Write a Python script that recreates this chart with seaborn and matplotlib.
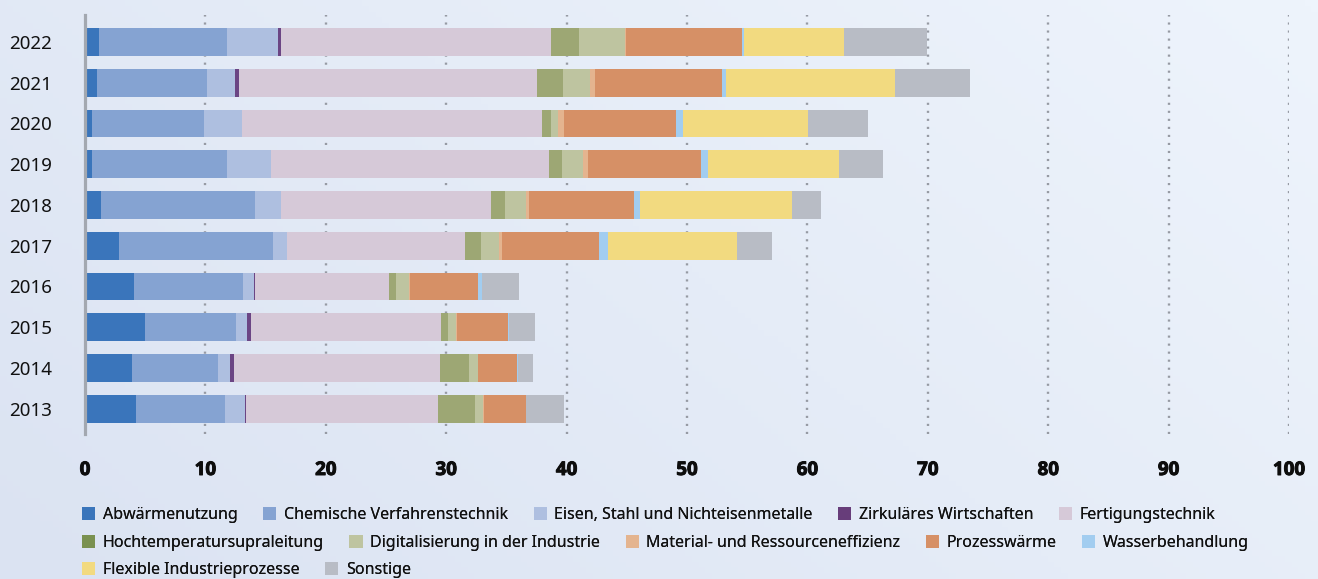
import numpy as np
import pandas as pd
import matplotlib
matplotlib.use("Agg")
import matplotlib.pyplot as plt
import matplotlib.transforms as mtransforms
import matplotlib.patheffects as pe
from matplotlib.patches import Patch
from matplotlib.colors import LinearSegmentedColormap
from matplotlib import font_manager
import seaborn as sns

years = ["2022", "2021", "2020", "2019", "2018", "2017", "2016", "2015", "2014", "2013"]
categories = [
    "Abwärmenutzung", "Chemische Verfahrenstechnik", "Eisen, Stahl und Nichteisenmetalle",
    "Zirkuläres Wirtschaften", "Fertigungstechnik", "Hochtemperatursupraleitung",
    "Digitalisierung in der Industrie", "Material- und Ressourceneffizienz", "Prozesswärme",
    "Wasserbehandlung", "Flexible Industrieprozesse", "Sonstige",
]
abwaerme      = [1.2, 1.0, 0.6, 0.6, 1.35, 2.85, 4.1, 5.0, 3.9, 4.25]
chemie        = [10.6, 9.1, 9.25, 11.2, 12.8, 12.8, 9.05, 7.55, 7.15, 7.35]
eisen         = [4.25, 2.35, 3.15, 3.65, 2.15, 1.15, 0.9, 0.9, 1.0, 1.7]
zirkulaer     = [0.25, 0.3, 0.08, 0.0, 0.0, 0.0, 0.08, 0.35, 0.3, 0.08]
fertigung     = [22.4, 24.75, 24.9, 23.1, 17.4, 14.8, 11.15, 15.75, 17.15, 15.9]
hts           = [2.35, 2.2, 0.7, 1.1, 1.2, 1.25, 0.55, 0.6, 2.4, 3.15]
digital       = [3.8, 2.25, 0.6, 1.7, 1.75, 1.55, 1.05, 0.7, 0.7, 0.65]
material      = [0.1, 0.4, 0.5, 0.4, 0.25, 0.2, 0.08, 0.07, 0.05, 0.02]
prozesswaerme = [9.6, 10.55, 9.3, 9.45, 8.7, 8.1, 5.7, 4.2, 3.25, 3.5]
wasser        = [0.15, 0.3, 0.6, 0.55, 0.5, 0.75, 0.28, 0.1, 0.08, 0.02]
flexibel      = [8.35, 14.1, 10.4, 10.9, 12.6, 10.7, 0.0, 0.0, 0.0, 0.0]
sonstige      = [6.9, 6.2, 4.95, 3.65, 2.4, 2.95, 3.1, 2.15, 1.25, 3.15]
x_ticks = [0, 10, 20, 30, 40, 50, 60, 70, 80, 90, 100]

series = [abwaerme, chemie, eisen, zirkulaer, fertigung, hts, digital, material,
          prozesswaerme, wasser, flexibel, sonstige]
colors = ["#3a75bb", "#85a3d2", "#aebfe0", "#6b4584", "#d6c9d8", "#9da774",
          "#bec4a0", "#e4b48f", "#d69066", "#a2cdf0", "#f2da80", "#b8bcc5"]
legend_colors = ["#3a75bb", "#85a3d2", "#aebfe0", "#673d7a", "#d6c9d8", "#7a9150",
                 "#bec4a0", "#e4b48f", "#d69066", "#a2cdf0", "#f2da80", "#b8bcc5"]

sns.set_theme(style="white")
plt.rcParams["font.family"] = ["Noto Sans", "DejaVu Sans"]

try:
    _bold_path = font_manager.findfont(
        font_manager.FontProperties(family="Open Sans", weight="bold"),
        fallback_to_default=False)
    bold_fp = font_manager.FontProperties(fname=_bold_path, size=13.5)
except Exception:
    bold_fp = font_manager.FontProperties(family="DejaVu Sans", weight="bold", size=12.5)

fig = plt.figure(figsize=(13.18, 5.79), dpi=100)
# background gradient
bg = fig.add_axes([0, 0, 1, 1], zorder=-10)
gx, gy = np.meshgrid(np.linspace(0, 1, 200), np.linspace(0, 1, 100))
grad = np.clip(0.65 * gx + 0.35 * gy, 0, 1)
cmap = LinearSegmentedColormap.from_list("bg", ["#dbe3f2", "#eef4fc"])
bg.imshow(grad, cmap=cmap, aspect="auto", origin="lower", extent=[0, 1, 0, 1])
bg.axis("off")

ax = fig.add_axes([85 / 1318, 1 - 434 / 579, (1289 - 85) / 1318, (434 - 15) / 579])
ax.patch.set_alpha(0)

vals = np.array(series).T  # years x categories
cum = np.cumsum(vals, axis=1)
for i in range(len(categories) - 1, -1, -1):
    df = pd.DataFrame({"year": years, "value": cum[:, i]})
    sns.barplot(data=df, x="value", y="year", orient="h", color=colors[i],
                saturation=1, width=0.68, ax=ax, zorder=3, linewidth=0)

ax.set_xlim(0, 100)
ax.set_ylim(9.62, -0.66)
ax.set_xticks(x_ticks)
ax.set_xticklabels([])
trans = mtransforms.blended_transform_factory(ax.transData, ax.transAxes)
for t in x_ticks:
    ax.text(t, -36 / 419, str(t), transform=trans, ha="center", va="center",
            fontproperties=bold_fp, color="#0d0d0d",
            path_effects=[pe.withStroke(linewidth=0.7, foreground="#0d0d0d")])
ax.tick_params(axis="x", length=0)
ax.tick_params(axis="y", length=0, pad=24, labelsize=13.5, labelcolor="#111111")
ax.set_xlabel("")
ax.set_ylabel("")
for t in x_ticks[1:]:
    ax.axvline(t, color="#969aa3", linewidth=1.7, linestyle=(0, (0.9, 2.5)), zorder=1)
for s in ["top", "right", "bottom"]:
    ax.spines[s].set_visible(False)
ax.spines["left"].set_color("#a3a8b0")
ax.spines["left"].set_linewidth(2.3)
ax.spines["left"].set_zorder(5)

rows = [(0, 5), (5, 10), (10, 12)]
row_y = [515, 543, 570]
for (a, b), yy in zip(rows, row_y):
    handles = [Patch(facecolor=legend_colors[k], edgecolor="none", label=categories[k])
               for k in range(a, b)]
    leg = fig.legend(handles=handles, ncol=b - a, loc="center left",
                     bbox_to_anchor=(82 / 1318, 1 - yy / 579), frameon=False,
                     fontsize=11.5, handlelength=0.82, handleheight=0.82,
                     handletextpad=0.48, columnspacing=1.6, borderaxespad=0,
                     borderpad=0)
    for txt in leg.get_texts():
        txt.set_color("#111111")
    fig.add_artist(leg)

fig.savefig("out.png", dpi=100)
